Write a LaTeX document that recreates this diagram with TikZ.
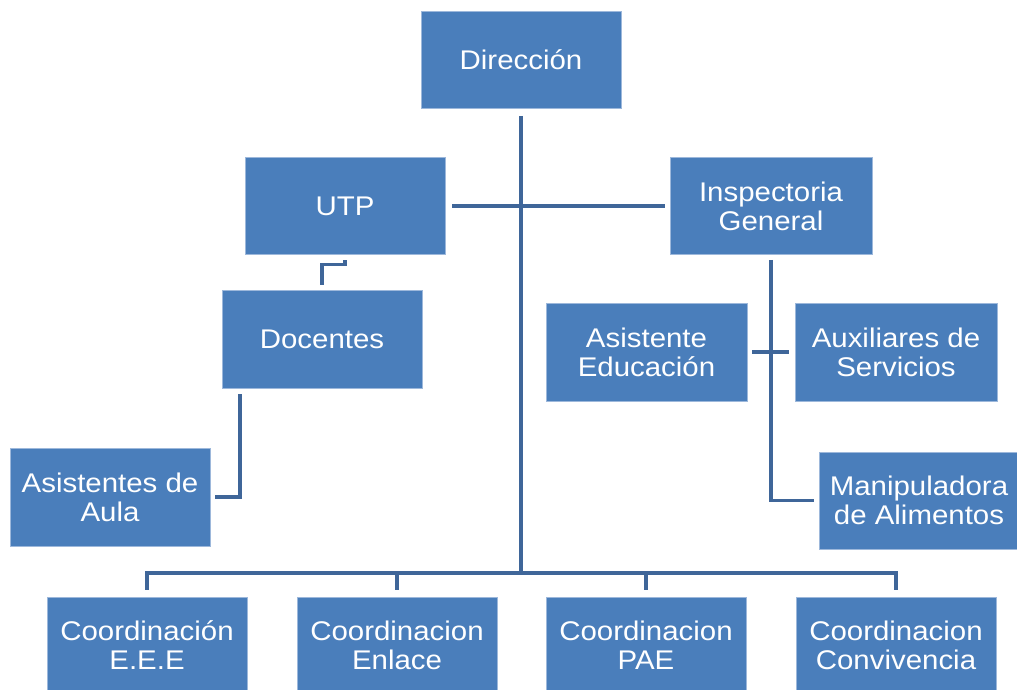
\documentclass[tikz,border=0pt]{standalone}
\usepackage{fontspec}
\setmainfont{Liberation Sans}[FakeStretch=1.09]
\usetikzlibrary{calc}
\definecolor{boxblue}{HTML}{4A7EBB}
\definecolor{boxedge}{HTML}{9DB8DB}
\definecolor{lineblue}{HTML}{3F6699}
\tikzset{
  orgbox/.style={rectangle, fill=boxblue, draw=boxedge, line width=0.8pt,
    minimum width=200pt, minimum height=97pt, inner sep=0pt,
    text=white, align=center, font=\fontsize{27}{29}\selectfont},
  conn/.style={draw=lineblue, line width=3.6pt}
}
\begin{document}
\begin{tikzpicture}[x=1pt,y=-1pt]
\useasboundingbox (0,0) rectangle (1017,690);
\clip (0,0) rectangle (1017,690);
% boxes
\node[orgbox] (dir) at (521,60) {Dirección};
\node[orgbox] (utp) at (345,206) {UTP};
\node[orgbox, minimum width=202pt] (insp) at (771,206) {Inspectoria\\General};
\node[orgbox, minimum height=98pt] (doc) at (322,339) {Docentes};
\node[orgbox, minimum height=98pt] (aula) at (110,497) {Asistentes de\\Aula};
\node[orgbox, minimum width=201pt, minimum height=98pt] (asist) at (646.5,352) {Asistente\\Educación};
\node[orgbox, minimum width=202pt, minimum height=98pt] (aux) at (896,352) {Auxiliares de\\Servicios};
\node[orgbox] (manip) at (919,500.5) {Manipuladora\\de Alimentos};
\node[orgbox] (eee) at (147,645.5) {Coordinación\\E.E.E};
\node[orgbox] (enl) at (397,645.5) {Coordinacion\\Enlace};
\node[orgbox] (pae) at (646,645.5) {Coordinacion\\PAE};
\node[orgbox] (conv) at (896,645.5) {Coordinacion\\Convivencia};
% bus coordinates
\coordinate (bus) at (521,573);
\coordinate (busL) at (147,573);
\coordinate (busR) at (896,573);
% connectors
\draw[conn, shorten <=7pt] (dir.south) -- (dir.south |- bus);
\draw[conn, line cap=rect] (busL) -- (busR);
\foreach \n in {eee,enl,pae,conv}{
  \draw[conn, shorten >=7pt] (\n.north |- bus) -- (\n.north);
}
\draw[conn, shorten <=7pt, shorten >=5pt] (utp.east) -- (insp.west);
\draw[conn] ([yshift=5pt]doc.north) -- ++(0,-20) -| ([yshift=-5pt]utp.south);
\draw[conn] ([xshift=5pt]aula.east) -| ([yshift=-6pt,xshift=-82pt]doc.south);
\draw[conn] ([yshift=-5pt]insp.south) |- ([xshift=-5pt]manip.west);
\draw[conn, shorten <=5pt, shorten >=6pt] (asist.east) -- (aux.west);
\end{tikzpicture}
\end{document}
